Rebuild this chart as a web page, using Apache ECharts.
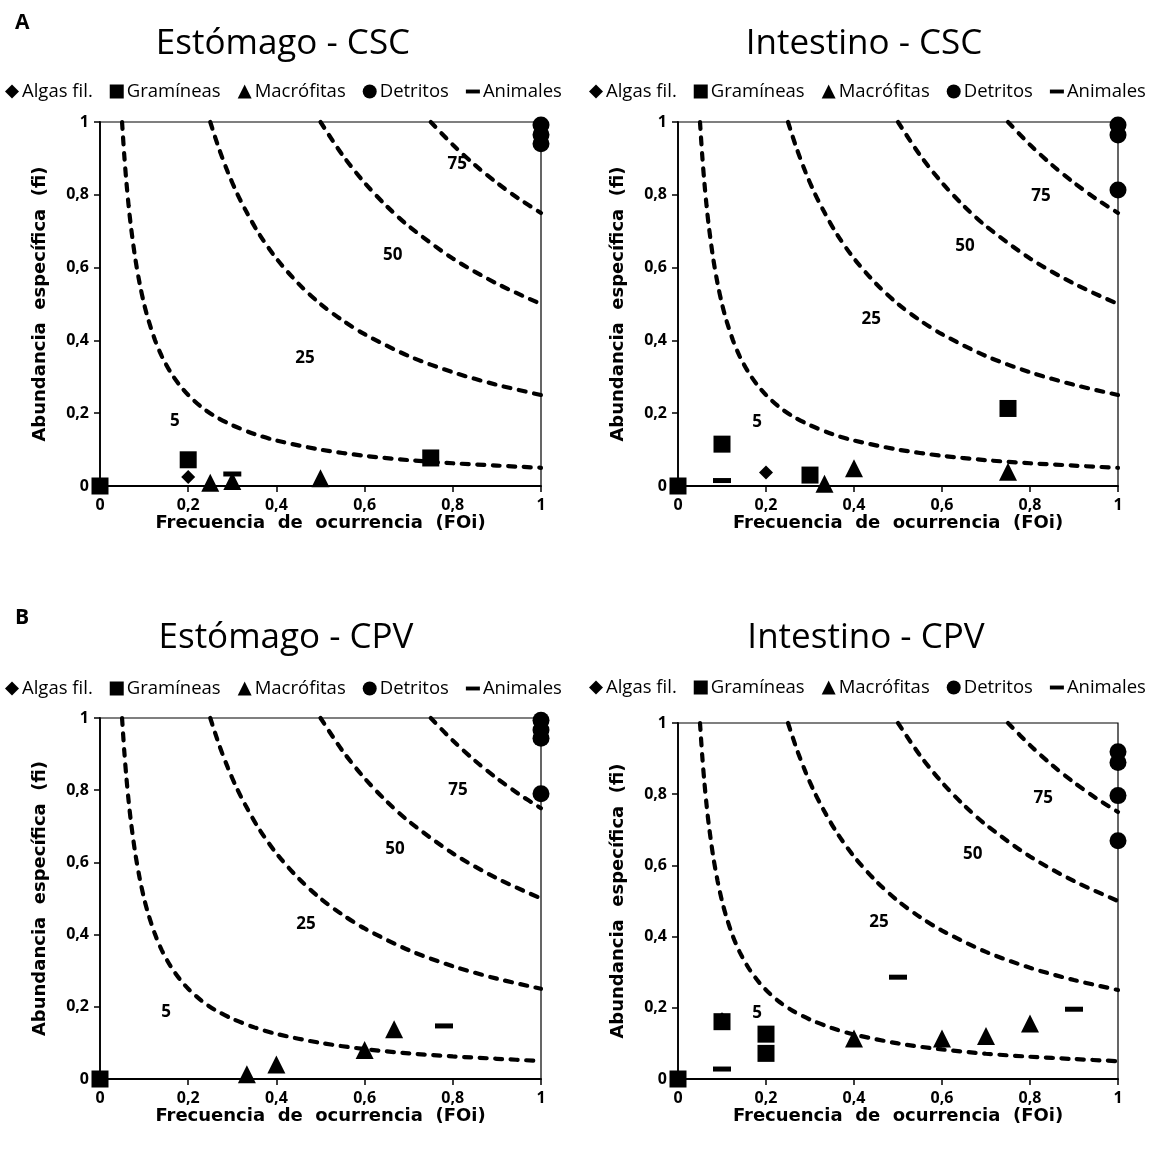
<!DOCTYPE html>
<html>
<head>
<meta charset="utf-8">
<script src="https://cdn.jsdelivr.net/npm/echarts@6/dist/echarts.min.js"></script>
<style>
html,body{margin:0;padding:0;background:#fff;}
#chart{width:1152px;height:1155px;}
</style>
</head>
<body>
<div id="chart"></div>
<script>
// ---------- DATA ----------
const categories = ['Algas fil.', 'Gramíneas', 'Macrófitas', 'Detritos', 'Animales'];
const panelTitles = ['Estómago - CSC', 'Intestino - CSC', 'Estómago - CPV', 'Intestino - CPV'];
const panelLetters = ['A', 'B'];
const tickLabels = ['0', '0,2', '0,4', '0,6', '0,8', '1'];
const xAxisName = 'Frecuencia  de  ocurrencia  (FOi)';
const yAxisName = 'Abundancia  específica  (fi)';

// Panel 1: Estómago - CSC
const algas1 = [[0.2, 0.025]];
const gram1  = [[0, 0], [0.2, 0.072], [0.75, 0.077]];
const macro1 = [[0.25, 0.009], [0.3, 0.014], [0.5, 0.021]];
const detr1  = [[1, 0.992], [1, 0.965], [1, 0.94]];
const anim1  = [[0.3, 0.033]];

// Panel 2: Intestino - CSC
const algas2 = [[0.2, 0.037]];
const gram2  = [[0, 0], [0.1, 0.115], [0.3, 0.03], [0.75, 0.213]];
const macro2 = [[0.333, 0.006], [0.4, 0.049], [0.75, 0.039]];
const detr2  = [[1, 0.992], [1, 0.964], [1, 0.813]];
const anim2  = [[0.1, 0.015]];

// Panel 3: Estómago - CPV
const algas3 = [];
const gram3  = [[0, 0]];
const macro3 = [[0.333, 0.013], [0.4, 0.04], [0.6, 0.08], [0.667, 0.138]];
const detr3  = [[1, 0.994], [1, 0.967], [1, 0.944], [1, 0.79]];
const anim3  = [[0.78, 0.147]];

// Panel 4: Intestino - CPV
const algas4 = [[0.1, 0.168]];
const gram4  = [[0, 0], [0.1, 0.161], [0.2, 0.126], [0.2, 0.072]];
const macro4 = [[0.4, 0.114], [0.6, 0.114], [0.7, 0.121], [0.8, 0.156]];
const detr4  = [[1, 0.919], [1, 0.889], [1, 0.796], [1, 0.669]];
const anim4  = [[0.1, 0.028], [0.5, 0.286], [0.9, 0.196]];

// Isolines of prey importance (%) : FOi x fi = level
const isoNames = ['5', '25', '50', '75'];
const iso5 = [[0.05,1],[0.055,0.909],[0.06,0.833],[0.065,0.769],[0.07,0.714],[0.08,0.625],[0.09,0.556],[0.1,0.5],[0.11,0.455],[0.125,0.4],[0.14,0.357],[0.16,0.3125],[0.18,0.278],[0.2,0.25],[0.23,0.217],[0.26,0.192],[0.3,0.167],[0.35,0.143],[0.4,0.125],[0.5,0.1],[0.6,0.083],[0.7,0.071],[0.8,0.0625],[0.9,0.056],[1,0.05]];
const iso25 = [[0.25,1],[0.27,0.926],[0.29,0.862],[0.31,0.806],[0.33,0.758],[0.36,0.694],[0.4,0.625],[0.45,0.556],[0.5,0.5],[0.55,0.455],[0.6,0.417],[0.7,0.357],[0.8,0.3125],[0.9,0.278],[1,0.25]];
const iso50 = [[0.5,1],[0.55,0.909],[0.6,0.833],[0.65,0.769],[0.7,0.714],[0.8,0.625],[0.9,0.556],[1,0.5]];
const iso75 = [[0.75,1],[0.8,0.9375],[0.85,0.882],[0.9,0.833],[0.95,0.789],[1,0.75]];

// Isoline label anchor points (data coords) per panel: 75, 50, 25, 5
const isoLabels1 = [[0.81,0.885,'75'],[0.664,0.635,'50'],[0.465,0.352,'25'],[0.17,0.179,'5']];
const isoLabels2 = [[0.825,0.797,'75'],[0.652,0.659,'50'],[0.439,0.459,'25'],[0.18,0.176,'5']];
const isoLabels3 = [[0.812,0.80,'75'],[0.669,0.636,'50'],[0.467,0.43,'25'],[0.15,0.186,'5']];
const isoLabels4 = [[0.83,0.788,'75'],[0.67,0.631,'50'],[0.457,0.441,'25'],[0.18,0.184,'5']];

// ---------- BUILD ----------
const FONT = '"Open Sans", "Noto Sans", sans-serif';
const NAMEFONT = '"DejaVu Sans", "Open Sans", sans-serif';
const panels = [
  {data:[algas1,gram1,macro1,detr1,anim1], labels:isoLabels1},
  {data:[algas2,gram2,macro2,detr2,anim2], labels:isoLabels2},
  {data:[algas3,gram3,macro3,detr3,anim3], labels:isoLabels3},
  {data:[algas4,gram4,macro4,detr4,anim4], labels:isoLabels4}
];
const grids = [
  {left:100, top:122, width:441, height:364},
  {left:678, top:122, width:440, height:364},
  {left:100, top:718, width:441, height:361},
  {left:678, top:723, width:440, height:356}
];
const titlePos = [[278,22],[859,22],[281,616],[861,616]];
const legendPos = [[0,77],[584,77],[0,674],[584,673]];

const dashPath = 'path://M0,0H18V5H0Z';
const symbols = ['diamond', 'rect', 'triangle', 'circle', dashPath];
const symSizes = [14, 17, 18, 17, [18,5]];

const option = {
  backgroundColor:'#fff',
  animation:false,
  textStyle:{fontFamily:FONT},
  title:[], grid:[], xAxis:[], yAxis:[], legend:[], series:[]
};

option.title.push({text:panelLetters[0], left:10, top:8, textStyle:{fontFamily:FONT,fontSize:21,fontWeight:'bold',color:'#000'}});
option.title.push({text:panelLetters[1], left:10, top:603, textStyle:{fontFamily:FONT,fontSize:21,fontWeight:'bold',color:'#000'}});

panels.forEach((p, i) => {
  option.title.push({text:panelTitles[i], left:titlePos[i][0], top:titlePos[i][1], textAlign:'center',
    textStyle:{fontFamily:FONT,fontSize:35,fontWeight:'normal',color:'#000'}});
  option.grid.push(Object.assign({show:true, borderColor:'#000', borderWidth:1.2, backgroundColor:'transparent', containLabel:false}, grids[i]));
  const axisCommon = {
    gridIndex:i, type:'value', min:0, max:1, interval:0.2,
    axisLine:{show:true, onZero:false, lineStyle:{color:'#000', width:1.8}},
    axisTick:{show:true, inside:false, length:6, lineStyle:{color:'#000', width:1.5}},
    splitLine:{show:false},
    axisLabel:{color:'#000', fontFamily:FONT, fontWeight:'bold', fontSize:16,
      formatter:(v)=>tickLabels[Math.round(v/0.2)]},
    nameLocation:'middle',
    nameTextStyle:{color:'#000', fontFamily:NAMEFONT, fontWeight:'bold', fontSize:18}
  };
  option.xAxis.push(Object.assign({}, axisCommon, {name:xAxisName, nameGap:25, axisLabel:Object.assign({}, axisCommon.axisLabel, {margin:11})}));
  option.yAxis.push(Object.assign({}, axisCommon, {name:yAxisName, nameGap:51, axisLabel:Object.assign({}, axisCommon.axisLabel, {margin:11})}));

  option.legend.push({
    left:legendPos[i][0], top:legendPos[i][1], orient:'horizontal', selectedMode:false,
    itemWidth:14, itemHeight:14, itemGap:17,
    textStyle:{fontFamily:FONT, fontSize:18.5, color:'#000', padding:[0,0,0,-2]},
    data:categories.map((c, k) => ({name:c, icon:symbols[k]}))
  });

  // isolines
  [iso5, iso25, iso50, iso75].forEach((iso, k) => {
    option.series.push({
      type:'line', name:'iso'+isoNames[k], xAxisIndex:i, yAxisIndex:i, data:iso,
      showSymbol:false, smooth:0.3, clip:false, silent:true,
      lineStyle:{color:'#000', width:4.2, type:[7,8.5], cap:'round'}, z:1
    });
  });
  // isoline labels
  option.series.push({
    type:'scatter', xAxisIndex:i, yAxisIndex:i, symbolSize:0, silent:true,
    itemStyle:{opacity:1},
    data:p.labels.map(d => ({value:[d[0], d[1]], name:d[2]})),
    label:{show:true, position:'inside', formatter:'{b}', color:'#000', fontFamily:FONT, fontWeight:'bold', fontSize:17},
    z:3
  });
  // markers
  p.data.forEach((arr, k) => {
    option.series.push({
      type:'scatter', name:categories[k], xAxisIndex:i, yAxisIndex:i, data:arr,
      symbol:symbols[k], symbolSize:symSizes[k], symbolKeepAspect:false, clip:false,
      itemStyle:{color:'#000', opacity:1}, z:5+k
    });
  });
});

const chart = echarts.init(document.getElementById('chart'), null, {renderer:'canvas'});
chart.setOption(option);
</script>
</body>
</html>
